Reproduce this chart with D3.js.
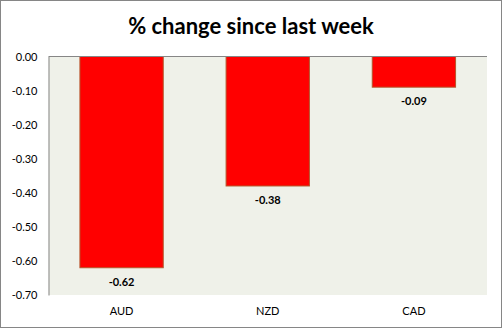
<!DOCTYPE html>
<html>
<head>
<meta charset="utf-8">
<script src="https://cdn.jsdelivr.net/npm/d3@7"></script>
<style>
  html, body { margin: 0; padding: 0; background: #fff; }
  svg { display: block; }
</style>
</head>
<body>
<svg id="chart" width="502" height="328"></svg>
<script>
// Weekly percentage change by currency
const categories = ["AUD", "NZD", "CAD"];
const values = [-0.62, -0.38, -0.09];
const tickValues = [0, -0.1, -0.2, -0.3, -0.4, -0.5, -0.6, -0.7];
const title = "% change since last week";

const svg = d3.select("#chart");
const W = 502, H = 328;
const font = "Lato, 'Open Sans', sans-serif";

// outer frame
svg.append("rect")
  .attr("x", 0.5).attr("y", 0.5)
  .attr("width", W - 1).attr("height", H - 1)
  .attr("fill", "#fff").attr("stroke", "#868686");

const plot = { left: 48.5, top: 56.5, right: 487, bottom: 295 };

const x = d3.scaleBand()
  .domain(categories)
  .range([plot.left, plot.right])
  .paddingInner(0.43)
  .paddingOuter(0.215);

const y = d3.scaleLinear()
  .domain([0, -0.7])
  .range([plot.top, plot.bottom]);

// plot background
svg.append("rect")
  .attr("x", plot.left).attr("y", plot.top)
  .attr("width", plot.right - plot.left)
  .attr("height", plot.bottom - plot.top)
  .attr("fill", "#eff1e9");

// bars
svg.selectAll("rect.bar")
  .data(values)
  .join("rect")
  .attr("class", "bar")
  .attr("x", (d, i) => x(categories[i]))
  .attr("y", d => y(0))
  .attr("width", x.bandwidth())
  .attr("height", d => y(d) - y(0))
  .attr("fill", "#ff0000")
  .attr("stroke", "#b5552b")
  .attr("stroke-width", 1);

// value labels
svg.selectAll("text.val")
  .data(values)
  .join("text")
  .attr("class", "val")
  .attr("x", (d, i) => x(categories[i]) + x.bandwidth() / 2)
  .attr("y", d => y(d) + 18)
  .attr("text-anchor", "middle")
  .attr("font-family", font)
  .attr("font-size", 11)
  .attr("font-weight", "bold")
  .attr("fill", "#000")
  .text(d => d.toFixed(2));

// y axis
const yAxis = d3.axisLeft(y)
  .tickValues(tickValues)
  .tickSize(0)
  .tickPadding(11)
  .tickFormat(d => d3.format(".2f")(d).replace("−", "-"));

const gy = svg.append("g")
  .attr("transform", `translate(${plot.left},0)`)
  .call(yAxis);
gy.select(".domain").attr("stroke", "#868686");
gy.selectAll("text")
  .attr("font-family", font)
  .attr("font-size", 11)
  .attr("fill", "#000");

// baseline at zero
svg.append("line")
  .attr("x1", plot.left).attr("x2", plot.right)
  .attr("y1", y(0)).attr("y2", y(0))
  .attr("stroke", "#868686");

// category labels
const xAxis = d3.axisBottom(x).tickSize(0).tickPadding(12);
const gx = svg.append("g")
  .attr("transform", `translate(0,${plot.bottom})`)
  .call(xAxis);
gx.select(".domain").remove();
gx.selectAll("text")
  .attr("font-family", font)
  .attr("font-size", 11)
  .attr("fill", "#000");

// title
svg.append("text")
  .attr("x", W / 2)
  .attr("y", 34)
  .attr("text-anchor", "middle")
  .attr("font-family", font)
  .attr("font-size", 22)
  .attr("font-weight", "bold")
  .attr("fill", "#000")
  .text(title);
</script>
</body>
</html>
